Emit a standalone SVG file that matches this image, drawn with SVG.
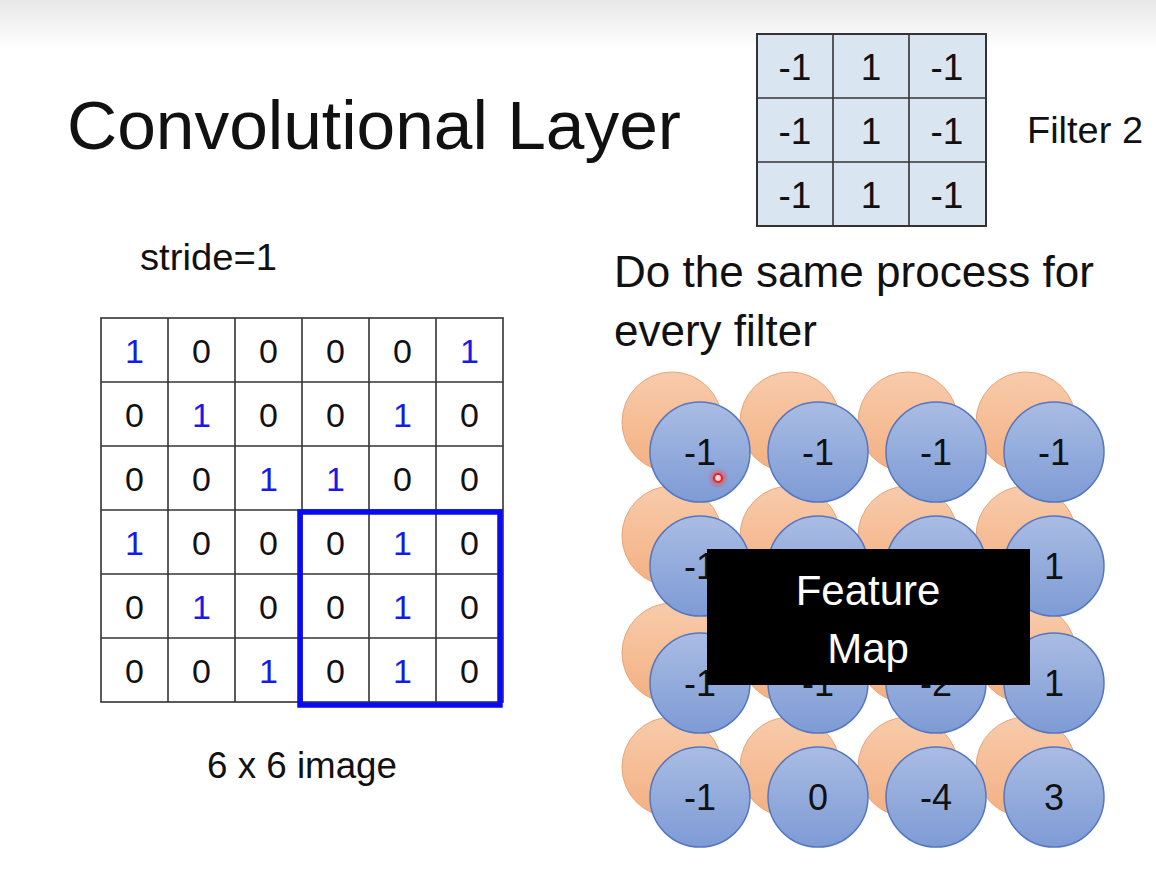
<svg xmlns="http://www.w3.org/2000/svg" width="1156" height="877" viewBox="0 0 1156 877">
<defs>
<linearGradient id="bg" x1="0" y1="0" x2="0" y2="1">
<stop offset="0" stop-color="#e8e8e8"/><stop offset="1" stop-color="#ffffff"/>
</linearGradient>
<linearGradient id="gBlue" x1="0" y1="0" x2="0" y2="1">
<stop offset="0" stop-color="#a9bce3"/><stop offset="1" stop-color="#7e9bd5"/>
</linearGradient>
<linearGradient id="gOrange" x1="0" y1="0" x2="0" y2="1">
<stop offset="0" stop-color="#f8cbab"/><stop offset="1" stop-color="#f3b082"/>
</linearGradient>
<radialGradient id="glow">
<stop offset="0" stop-color="#ff3030" stop-opacity="0.7"/><stop offset="1" stop-color="#ff3030" stop-opacity="0"/>
</radialGradient>
<style>
text{font-family:"Liberation Sans",Arial,sans-serif;fill:#111}
.grid line{stroke:#333;stroke-width:1.6}
.c{font-size:34px;text-anchor:middle}
.f{font-size:37px;text-anchor:middle}
.b{fill:#1a1ae6}
.o{fill:url(#gOrange);stroke:#e9a576;stroke-width:1}
.bl{fill:url(#gBlue);stroke:#5577c0;stroke-width:1.5}
.n{font-size:36px;text-anchor:middle}
</style>
</defs>
<rect x="0" y="0" width="1156" height="877" fill="#ffffff"/>
<rect x="0" y="0" width="1156" height="50" fill="url(#bg)"/>

<g id="title"><text x="67" y="149" font-size="69" textLength="614" lengthAdjust="spacingAndGlyphs">Convolutional Layer</text></g>

<g id="filter2">
<rect x="757" y="34" width="229" height="192" fill="#dae5f2" stroke="#333" stroke-width="2"/>
<g class="grid">
<line x1="833" y1="34" x2="833" y2="226"/><line x1="909" y1="34" x2="909" y2="226"/>
<line x1="757" y1="98" x2="986" y2="98"/><line x1="757" y1="162" x2="986" y2="162"/>
</g>
<text class="f" x="795" y="80">-1</text><text class="f" x="871" y="80">1</text><text class="f" x="947" y="80">-1</text>
<text class="f" x="795" y="144">-1</text><text class="f" x="871" y="144">1</text><text class="f" x="947" y="144">-1</text>
<text class="f" x="795" y="208">-1</text><text class="f" x="871" y="208">1</text><text class="f" x="947" y="208">-1</text>
</g>
<g id="filter-label"><text x="1027" y="143" font-size="37" textLength="116" lengthAdjust="spacingAndGlyphs">Filter 2</text></g>

<g id="stride"><text x="140" y="270" font-size="37" textLength="137" lengthAdjust="spacingAndGlyphs">stride=1</text></g>

<g id="image6x6">
<rect x="101" y="318" width="402" height="384" fill="#ffffff" stroke="#333" stroke-width="1.6"/>
<g class="grid">
<line x1="168" y1="318" x2="168" y2="702"/><line x1="235" y1="318" x2="235" y2="702"/><line x1="302" y1="318" x2="302" y2="702"/><line x1="369" y1="318" x2="369" y2="702"/><line x1="436" y1="318" x2="436" y2="702"/>
<line x1="101" y1="382" x2="503" y2="382"/><line x1="101" y1="446" x2="503" y2="446"/><line x1="101" y1="510" x2="503" y2="510"/><line x1="101" y1="574" x2="503" y2="574"/><line x1="101" y1="638" x2="503" y2="638"/>
</g>
<text class="c b" x="134.5" y="363">1</text><text class="c" x="201.5" y="363">0</text><text class="c" x="268.5" y="363">0</text><text class="c" x="335.5" y="363">0</text><text class="c" x="402.5" y="363">0</text><text class="c b" x="469.5" y="363">1</text>
<text class="c" x="134.5" y="427">0</text><text class="c b" x="201.5" y="427">1</text><text class="c" x="268.5" y="427">0</text><text class="c" x="335.5" y="427">0</text><text class="c b" x="402.5" y="427">1</text><text class="c" x="469.5" y="427">0</text>
<text class="c" x="134.5" y="491">0</text><text class="c" x="201.5" y="491">0</text><text class="c b" x="268.5" y="491">1</text><text class="c b" x="335.5" y="491">1</text><text class="c" x="402.5" y="491">0</text><text class="c" x="469.5" y="491">0</text>
<text class="c b" x="134.5" y="555">1</text><text class="c" x="201.5" y="555">0</text><text class="c" x="268.5" y="555">0</text><text class="c" x="335.5" y="555">0</text><text class="c b" x="402.5" y="555">1</text><text class="c" x="469.5" y="555">0</text>
<text class="c" x="134.5" y="619">0</text><text class="c b" x="201.5" y="619">1</text><text class="c" x="268.5" y="619">0</text><text class="c" x="335.5" y="619">0</text><text class="c b" x="402.5" y="619">1</text><text class="c" x="469.5" y="619">0</text>
<text class="c" x="134.5" y="683">0</text><text class="c" x="201.5" y="683">0</text><text class="c b" x="268.5" y="683">1</text><text class="c" x="335.5" y="683">0</text><text class="c b" x="402.5" y="683">1</text><text class="c" x="469.5" y="683">0</text>
</g>
<g id="highlight"><rect x="300" y="512" width="200" height="193" fill="none" stroke="#0a0af0" stroke-width="5.5"/></g>

<g id="image-label"><text x="207" y="778" font-size="37" textLength="190" lengthAdjust="spacingAndGlyphs">6 x 6 image</text></g>

<g id="caption">
<text x="614" y="287" font-size="44" textLength="480" lengthAdjust="spacingAndGlyphs">Do the same process for</text>
<text x="614" y="346" font-size="44">every filter</text>
</g>

<g id="map1">
<circle class="o" cx="672" cy="422" r="50"/><circle class="o" cx="790" cy="422" r="50"/><circle class="o" cx="908" cy="422" r="50"/><circle class="o" cx="1026" cy="422" r="50"/>
<circle class="o" cx="672" cy="536" r="50"/><circle class="o" cx="790" cy="536" r="50"/><circle class="o" cx="908" cy="536" r="50"/><circle class="o" cx="1026" cy="536" r="50"/>
<circle class="o" cx="672" cy="653" r="50"/><circle class="o" cx="790" cy="653" r="50"/><circle class="o" cx="908" cy="653" r="50"/><circle class="o" cx="1026" cy="653" r="50"/>
<circle class="o" cx="672" cy="767" r="50"/><circle class="o" cx="790" cy="767" r="50"/><circle class="o" cx="908" cy="767" r="50"/><circle class="o" cx="1026" cy="767" r="50"/>
</g>
<g id="map2">
<circle class="bl" cx="700" cy="452" r="50"/><circle class="bl" cx="818" cy="452" r="50"/><circle class="bl" cx="936" cy="452" r="50"/><circle class="bl" cx="1054" cy="452" r="50"/>
<circle class="bl" cx="700" cy="566" r="50"/><circle class="bl" cx="818" cy="566" r="50"/><circle class="bl" cx="936" cy="566" r="50"/><circle class="bl" cx="1054" cy="566" r="50"/>
<circle class="bl" cx="700" cy="683" r="50"/><circle class="bl" cx="818" cy="683" r="50"/><circle class="bl" cx="936" cy="683" r="50"/><circle class="bl" cx="1054" cy="683" r="50"/>
<circle class="bl" cx="700" cy="797" r="50"/><circle class="bl" cx="818" cy="797" r="50"/><circle class="bl" cx="936" cy="797" r="50"/><circle class="bl" cx="1054" cy="797" r="50"/>
<text class="n" x="700" y="465">-1</text><text class="n" x="818" y="465">-1</text><text class="n" x="936" y="465">-1</text><text class="n" x="1054" y="465">-1</text>
<text class="n" x="700" y="579">-1</text><text class="n" x="1054" y="579">1</text>
<text class="n" x="700" y="696">-1</text><text class="n" x="818" y="696">-1</text><text class="n" x="936" y="696">-2</text><text class="n" x="1054" y="696">1</text>
<text class="n" x="700" y="810">-1</text><text class="n" x="818" y="810">0</text><text class="n" x="936" y="810">-4</text><text class="n" x="1054" y="810">3</text>
</g>

<g id="feature-map">
<rect x="707" y="549" width="323" height="136" fill="#000000"/>
<text x="868" y="605" font-size="42" text-anchor="middle" style="fill:#ffffff">Feature</text>
<text x="868" y="663" font-size="42" text-anchor="middle" style="fill:#ffffff">Map</text>
</g>

<g id="cursor">
<circle cx="718" cy="478" r="11" fill="url(#glow)"/>
<circle cx="718" cy="478" r="4" fill="#ffe0e0" stroke="#ff1a1a" stroke-width="2.2"/>
</g>
</svg>
